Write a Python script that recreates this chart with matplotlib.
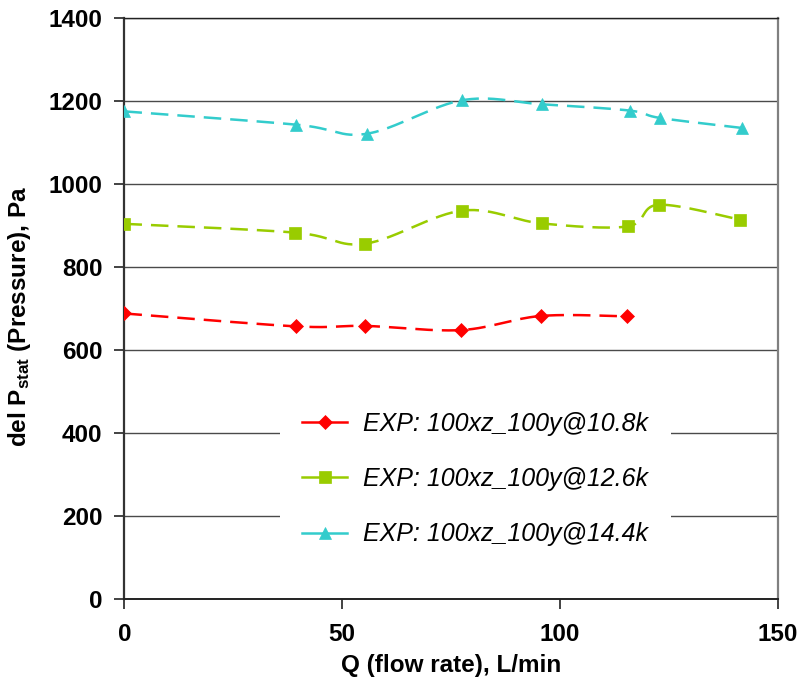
import numpy as np
import matplotlib
matplotlib.use("Agg")
import matplotlib.pyplot as plt
from matplotlib.lines import Line2D

plt.rcParams['font.family'] = ['Liberation Sans', 'DejaVu Sans']
plt.rcParams['mathtext.fontset'] = 'custom'
plt.rcParams['mathtext.rm'] = 'Liberation Sans'
plt.rcParams['mathtext.bf'] = 'Liberation Sans:bold'
plt.rcParams['mathtext.it'] = 'Liberation Sans:italic'

# ---- data ----
x_108 = [0, 39.3, 55.3, 77.3, 95.6, 115.4]
y_108 = [688, 657, 658, 648, 682, 681]

x_126 = [0, 39.1, 55.2, 77.6, 95.8, 115.6, 122.7, 141.4]
y_126 = [904, 883, 856, 936, 905, 898, 950, 914]

x_144 = [0, 39.5, 55.6, 77.6, 96.0, 116.0, 123.1, 141.9]
y_144 = [1175, 1143, 1121, 1202, 1192, 1177, 1159, 1135]

labels = ["EXP: 100xz_100y@10.8k", "EXP: 100xz_100y@12.6k", "EXP: 100xz_100y@14.4k"]
colors = ["#FF0000", "#99CC00", "#33CCCC"]
markers = ["D", "s", "^"]
msizes = [7.2, 8.8, 9.3]

x_ticks = [0, 50, 100, 150]
y_ticks = [0, 200, 400, 600, 800, 1000, 1200, 1400]


def smooth(xs, ys, n=30):
    """Excel-style smoothed line: Bezier segments with Catmull-Rom control points."""
    p = np.column_stack([xs, ys]).astype(float)
    m = len(p)
    out = []
    t = np.linspace(0, 1, n)[:, None]
    for i in range(m - 1):
        p0 = p[i - 1] if i > 0 else p[i]
        p1 = p[i]
        p2 = p[i + 1]
        p3 = p[i + 2] if i + 2 < m else p[i + 1]
        c1 = p1 + (p2 - p0) / 6.0
        c2 = p2 - (p3 - p1) / 6.0
        seg = ((1 - t) ** 3) * p1 + 3 * ((1 - t) ** 2) * t * c1 + 3 * (1 - t) * t ** 2 * c2 + t ** 3 * p2
        if i > 0:
            seg = seg[1:]
        out.append(seg)
    out = np.vstack(out)
    return out[:, 0], out[:, 1]


fig = plt.figure(figsize=(8, 6.88), dpi=100)
ax = fig.add_axes([0.1556, 0.1294, 0.972 - 0.1556, 0.9738 - 0.1294])

series = [(x_108, y_108), (x_126, y_126), (x_144, y_144)]
handles = []
for (xs, ys), c, mk, ms, lab in zip(series, colors, markers, msizes, labels):
    sx, sy = smooth(xs, ys)
    ax.plot(sx, sy, color=c, lw=1.8, dashes=(7.0, 3.6), zorder=3)
    ax.plot(xs, ys, linestyle='none', marker=mk, markersize=ms, color=c,
            markeredgecolor=c, markeredgewidth=0.5, zorder=4)
    handles.append(Line2D([], [], color=c, lw=1.8, marker=mk, markersize=ms,
                          markeredgecolor=c, markeredgewidth=0.5))

ax.set_xlim(0, 150)
ax.set_ylim(0, 1400)
ax.set_xticks(x_ticks)
ax.set_yticks(y_ticks)
ax.yaxis.grid(True, color='#4a4a4a', lw=1.0, zorder=1)
ax.set_axisbelow(True)

for lab in ax.get_xticklabels() + ax.get_yticklabels():
    lab.set_fontweight('bold')
    lab.set_fontsize(17.5)
ax.tick_params(axis='x', direction='out', length=7, width=1.2, pad=10, colors='#222222',
               labelcolor='black')
ax.tick_params(axis='y', direction='out', length=7, width=1.2, pad=9, colors='#222222',
               labelcolor='black')

ax.spines['left'].set_color('#333333')
ax.spines['left'].set_linewidth(1.6)
ax.spines['bottom'].set_color('#222222')
ax.spines['bottom'].set_linewidth(1.4)
ax.spines['right'].set_color('#808080')
ax.spines['right'].set_linewidth(1.6)
ax.spines['top'].set_color('#222222')
ax.spines['top'].set_linewidth(1.0)

ax.set_xlabel("Q (flow rate), L/min", fontsize=17.5, fontweight='bold', labelpad=6)
ax.set_ylabel(r"del P$_{\mathbf{stat}}$ (Pressure), Pa", fontsize=17.5, fontweight='bold')
ax.yaxis.set_label_coords(-0.140, 0.487)

leg = ax.legend(handles, labels, loc='center', bbox_to_anchor=(0.537, 0.2065),
                frameon=True, facecolor='white', edgecolor='none', framealpha=1.0,
                fancybox=False, prop={'family': 'Liberation Sans', 'style': 'italic', 'size': 18},
                handlelength=1.8, handletextpad=0.65, labelspacing=1.25, borderpad=0.9)
leg.set_zorder(5)

fig.savefig("out.png", dpi=100)
